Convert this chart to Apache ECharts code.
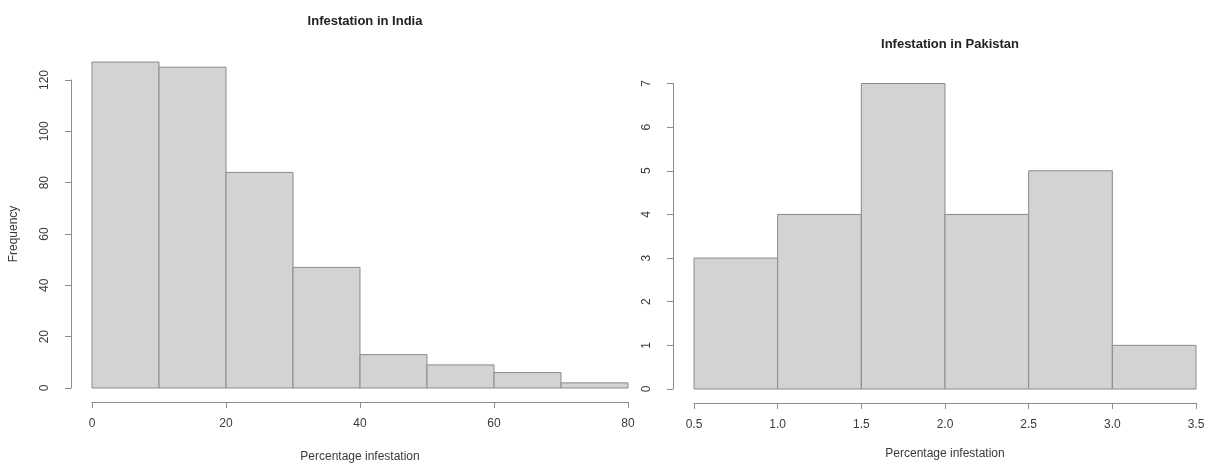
<!DOCTYPE html>
<html>
<head>
<meta charset="utf-8">
<script src="https://cdn.jsdelivr.net/npm/echarts@6/dist/echarts.min.js"></script>
<style>
  html, body { margin: 0; padding: 0; background: #fff; }
  #chart { width: 1213px; height: 464px; }
</style>
</head>
<body>
<div id="chart"></div>
<script>
// histogram bins (edges) and counts
const indiaBreaks = [0, 10, 20, 30, 40, 50, 60, 70, 80]
const indiaCounts = [127, 125, 84, 47, 13, 9, 6, 2]
const pakBreaks = [0.5, 1.0, 1.5, 2.0, 2.5, 3.0, 3.5]
const pakCounts = [3, 4, 7, 4, 5, 1]

const textColor = '#3a3a3a'
const lineColor = '#8c8c8c'
const font = 'Liberation Sans, Arial, sans-serif'

function toBins(breaks, counts) {
  return counts.map((c, i) => [breaks[i], breaks[i + 1], c])
}

function renderBin(params, api) {
  const p0 = api.coord([api.value(0), 0])
  const p1 = api.coord([api.value(1), api.value(2)])
  return {
    type: 'rect',
    shape: { x: p0[0], y: p1[1], width: p1[0] - p0[0], height: p0[1] - p1[1] },
    style: { fill: '#d3d3d3', stroke: '#8a8a8a', lineWidth: 1 }
  }
}

function xAxisOf(idx, min, max, interval, nameGap, fmt) {
  return {
    gridIndex: idx,
    type: 'value',
    min: min,
    max: max,
    interval: interval,
    offset: 14,
    name: 'Percentage infestation',
    nameLocation: 'middle',
    nameGap: nameGap,
    nameTextStyle: { color: textColor, fontSize: 12, fontFamily: font },
    axisLine: { show: true, onZero: false, lineStyle: { color: lineColor } },
    axisTick: { show: true, length: 6, lineStyle: { color: lineColor } },
    axisLabel: { color: textColor, fontSize: 12, fontFamily: font, margin: 16, formatter: fmt },
    splitLine: { show: false }
  }
}

function yAxisOf(idx, max, interval, name) {
  return {
    gridIndex: idx,
    type: 'value',
    min: 0,
    max: max,
    interval: interval,
    offset: 21,
    name: name,
    nameLocation: 'middle',
    nameRotate: 90,
    nameGap: 51,
    nameTextStyle: { color: textColor, fontSize: 12, fontFamily: font },
    axisLine: { show: true, onZero: false, lineStyle: { color: lineColor } },
    axisTick: { show: true, length: 6, lineStyle: { color: lineColor } },
    axisLabel: { color: textColor, fontSize: 12, fontFamily: font, rotate: 90, margin: 20 },
    splitLine: { show: false }
  }
}

const chart = echarts.init(document.getElementById('chart'))
chart.setOption({
  animation: false,
  title: [{
    text: 'Infestation in India',
    left: 360,
    top: 10,
    textAlign: 'center',
    textStyle: { fontSize: 13, fontWeight: 'bold', color: '#222', fontFamily: font }
  }, {
    text: 'Infestation in Pakistan',
    left: 945,
    top: 33,
    textAlign: 'center',
    textStyle: { fontSize: 13, fontWeight: 'bold', color: '#222', fontFamily: font }
  }],
  grid: [
    { left: 92, right: 585, top: 80, bottom: 76, containLabel: false, outerBoundsMode: 'none' },
    { left: 694, right: 17, top: 83.5, bottom: 75, containLabel: false, outerBoundsMode: 'none' }
  ],
  xAxis: [
    xAxisOf(0, 0, 80, 20, 49),
    xAxisOf(1, 0.5, 3.5, 0.5, 45, v => v.toFixed(1))
  ],
  yAxis: [
    yAxisOf(0, 120, 20, 'Frequency'),
    yAxisOf(1, 7, 1, '')
  ],
  series: [{
    type: 'custom',
    xAxisIndex: 0,
    yAxisIndex: 0,
    renderItem: renderBin,
    encode: { x: [0, 1], y: 2 },
    data: toBins(indiaBreaks, indiaCounts)
  }, {
    type: 'custom',
    xAxisIndex: 1,
    yAxisIndex: 1,
    renderItem: renderBin,
    encode: { x: [0, 1], y: 2 },
    data: toBins(pakBreaks, pakCounts)
  }]
})
</script>
</body>
</html>
